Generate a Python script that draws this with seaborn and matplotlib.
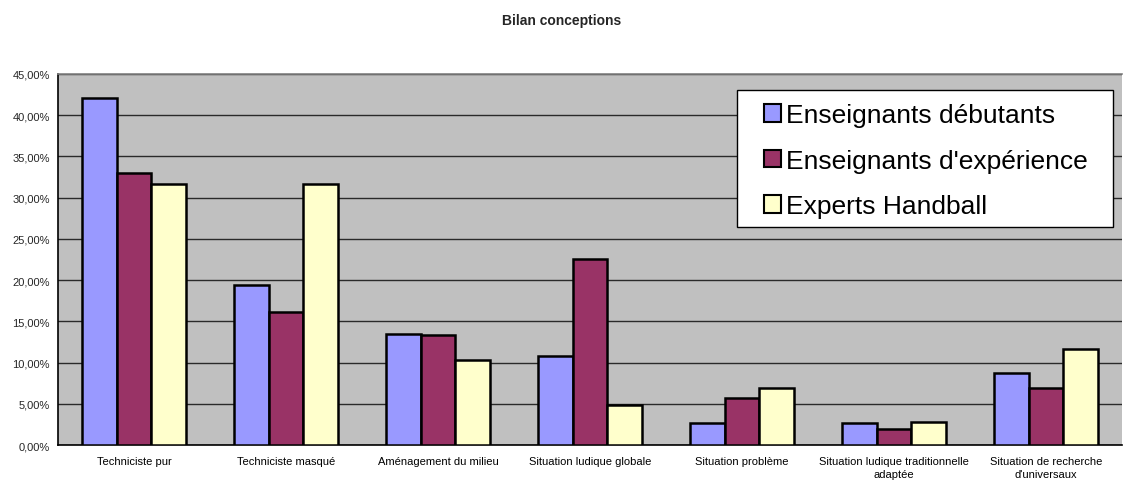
import numpy as np
import pandas as pd
import matplotlib
matplotlib.use("Agg")
import matplotlib.pyplot as plt
from matplotlib.patches import Patch, Rectangle
from matplotlib.ticker import FuncFormatter, FixedLocator
import seaborn as sns

categories = [
    "Techniciste pur",
    "Techniciste masqué",
    "Aménagement du milieu",
    "Situation ludique globale",
    "Situation problème",
    "Situation ludique traditionnelle\nadaptée",
    "Situation de recherche\nd'universaux",
]
groups = ["Enseignants débutants", "Enseignants d'expérience", "Experts Handball"]

debutants = [42.1, 19.4, 13.5, 10.8, 2.65, 2.65, 8.7]
experience = [33.0, 16.1, 13.4, 22.6, 5.75, 1.9, 6.9]
experts = [31.7, 31.7, 10.3, 4.85, 6.9, 2.75, 11.7]

colors = ["#9999FF", "#993366", "#FFFFCC"]

df = pd.DataFrame({
    "categorie": categories * 3,
    "groupe": [g for g in groups for _ in categories],
    "valeur": debutants + experience + experts,
})

sns.set_style("white")
plt.rcParams["font.family"] = ["Liberation Sans", "DejaVu Sans"]

W, H = 1124, 481
L, R, T, B = 58, 1122, 75, 446
fig = plt.figure(figsize=(W / 100, H / 100), dpi=100)
ax = fig.add_axes([L / W, 1 - B / H, (R - L) / W, (B - T) / H])
ax.set_facecolor("#C0C0C0")

sns.barplot(
    data=df, x="categorie", y="valeur", hue="groupe",
    palette=colors, edgecolor="black", linewidth=1.8,
    width=0.69, gap=0, saturation=1, ax=ax, legend=False, zorder=3,
)

ax.set_ylim(0, 45)
ax.set_xlim(-0.5, len(categories) - 0.5)
ax.set_yticks(np.arange(0, 46, 5))
ax.yaxis.set_major_formatter(FuncFormatter(lambda v, p: f"{v:.2f}".replace(".", ",") + "%"))
ax.grid(axis="y", color="#2a2a2a", linewidth=1.0, zorder=0)
ax.set_axisbelow(True)

ax.set_xlabel("")
ax.set_ylabel("")
ax.tick_params(axis="x", which="major", length=0, labelsize=8, pad=8, colors="black")
ax.xaxis.set_minor_locator(FixedLocator(np.arange(-0.5, len(categories), 1.0)))
ax.tick_params(axis="x", which="minor", length=4, width=1, color="black", direction="out")
ax.tick_params(axis="y", length=4, width=1, color="black", direction="out", labelsize=8, pad=2)
for lbl in ax.get_xticklabels():
    lbl.set_linespacing(1.4)

for side in ["left", "bottom"]:
    ax.spines[side].set_color("black")
    ax.spines[side].set_linewidth(1.2)
ax.spines["top"].set_color("#808080")
ax.spines["top"].set_linewidth(1.2)
ax.spines["right"].set_visible(False)


def ax_x(px):
    return (px - L) / (R - L)


def ax_y(py):
    return (B - py) / (B - T)


# legend box drawn as its own frame, entries placed inside it
frame = Rectangle((ax_x(737), ax_y(228)), ax_x(1113) - ax_x(737), ax_y(91) - ax_y(228),
                  transform=ax.transAxes, facecolor="white", edgecolor="black",
                  linewidth=1.0, zorder=5, clip_on=False)
ax.add_patch(frame)

handles = [Patch(facecolor=c, edgecolor="black", linewidth=1.5) for c in colors]
leg = ax.legend(
    handles, groups, loc="upper left",
    bbox_to_anchor=(ax_x(764), ax_y(104)),
    fontsize=19, frameon=False,
    handlelength=0.65, handleheight=0.65, handletextpad=0.2,
    labelspacing=0.82, borderpad=0, borderaxespad=0,
)
for t in leg.get_texts():
    t.set_color("black")
leg.set_zorder(6)

fig.text(0.5, 1 - 21 / H, "Bilan conceptions", ha="center", va="center",
         fontsize=10, fontweight="bold")

fig.savefig("out.png", dpi=100, facecolor="white")
